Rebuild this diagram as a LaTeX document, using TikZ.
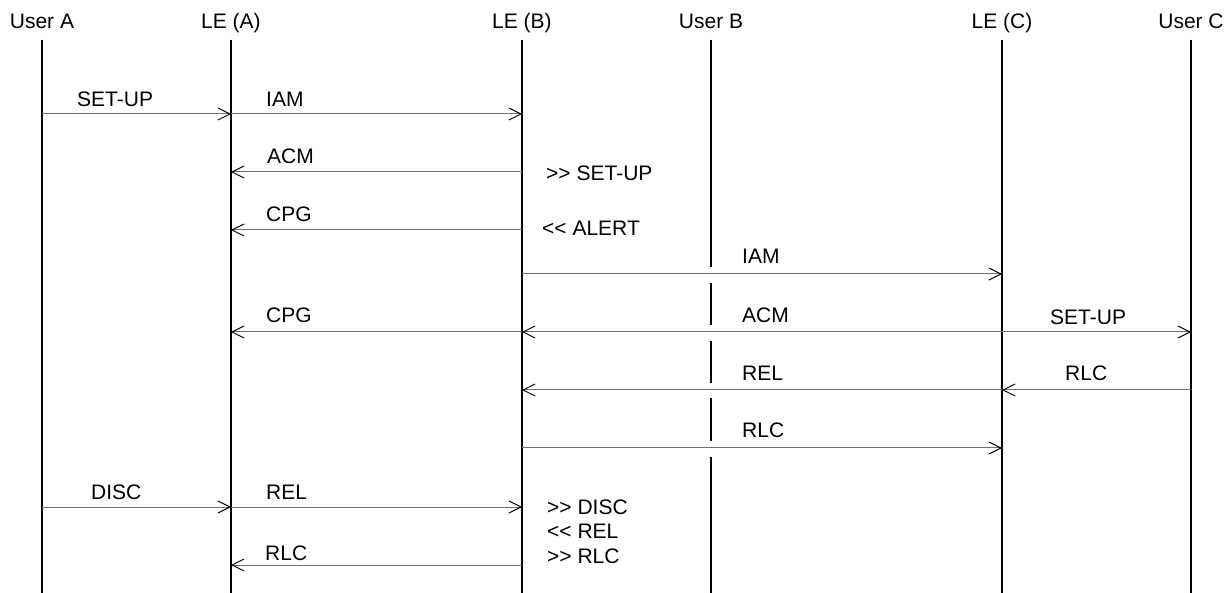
\documentclass[tikz,border=0pt]{standalone}
\usepackage{fontspec}
\setmainfont{Liberation Sans}
\usetikzlibrary{arrows.meta}
\definecolor{msggray}{RGB}{112,112,112}
\tikzset{
  lifeline/.style={line width=2pt, black},
  msg/.style={line width=1pt, msggray, -{Straight Barb[length=12pt,width=12pt,line width=1pt,black]}},
  lbl/.style={anchor=base west, inner sep=0pt, font=\fontsize{21}{25}\selectfont},
  hdr/.style={anchor=base, inner sep=0pt, font=\fontsize{21}{25}\selectfont},
}
\begin{document}
\begin{tikzpicture}[x=1pt,y=-1pt]
\useasboundingbox (0,0) rectangle (1232,593);
% lifeline positions
\coordinate (A)  at (42,40);
\coordinate (LA) at (231,40);
\coordinate (LB) at (522,40);
\coordinate (UB) at (711,40);
\coordinate (LC) at (1002,40);
\coordinate (UC) at (1191,40);
\coordinate (bot) at (0,593);
% headers
\node[hdr] (hA)  at (42,29)   {User A};
\node[hdr] (hLA) at (231,29)  {LE (A)};
\node[hdr] (hLB) at (522,29)  {LE (B)};
\node[hdr] (hUB) at (711,29)  {User B};
\node[hdr] (hLC) at (1002,29) {LE (C)};
\node[hdr] (hUC) at (1191,29) {User C};
% row coordinates
\coordinate (r1) at (0,114);
\coordinate (r2) at (0,172);
\coordinate (r3) at (0,230);
\coordinate (r4) at (0,274);
\coordinate (r5) at (0,332);
\coordinate (r6) at (0,390);
\coordinate (r7) at (0,448);
\coordinate (r8) at (0,507);
\coordinate (r9) at (0,565);
% lifelines
\draw[lifeline] (A)  -- (A |- bot);
\draw[lifeline] (LA) -- (LA |- bot);
\draw[lifeline] (LB) -- (LB |- bot);
\draw[lifeline] (LC) -- (LC |- bot);
\draw[lifeline] (UC) -- (UC |- bot);
% User B lifeline with gaps at crossings
\coordinate (g1a) at (0,267); \coordinate (g1b) at (0,283);
\coordinate (g2a) at (0,325); \coordinate (g2b) at (0,341);
\coordinate (g3a) at (0,383); \coordinate (g3b) at (0,398);
\coordinate (g4a) at (0,441); \coordinate (g4b) at (0,457);
\draw[lifeline] (UB) -- (UB |- g1a);
\draw[lifeline] (UB |- g1b) -- (UB |- g2a);
\draw[lifeline] (UB |- g2b) -- (UB |- g3a);
\draw[lifeline] (UB |- g3b) -- (UB |- g4a);
\draw[lifeline] (UB |- g4b) -- (UB |- bot);
% messages
\draw[msg] (A |- r1) -- (LA |- r1);
\draw[msg] (LA |- r1) -- (LB |- r1);
\draw[msg] (LB |- r2) -- (LA |- r2);
\draw[msg] (LB |- r3) -- (LA |- r3);
\draw[msg] (LB |- r4) -- (LC |- r4);
\draw[msg] (LB |- r5) -- (LA |- r5);
\draw[msg] (LC |- r5) -- (LB |- r5);
\draw[msg] (LC |- r5) -- (UC |- r5);
\draw[msg] (LC |- r6) -- (LB |- r6);
\draw[msg] (UC |- r6) -- (LC |- r6);
\draw[msg] (LB |- r7) -- (LC |- r7);
\draw[msg] (A |- r8) -- (LA |- r8);
\draw[msg] (LA |- r8) -- (LB |- r8);
\draw[msg] (LB |- r9) -- (LA |- r9);
% labels
\node[lbl] (l1a) at (77,107)  {SET-UP};
\node[lbl] (l1b) at (266,107) {IAM};
\node[lbl] (l2)  at (267,164) {ACM};
\node[lbl] (n2)  at (546,181) {>{}> SET-UP};
\node[lbl] (l3)  at (266,222) {CPG};
\node[lbl] (n3)  at (542,236) {<{}< ALERT};
\node[lbl] (l4)  at (742,264) {IAM};
\node[lbl] (l5a) at (266,323) {CPG};
\node[lbl] (l5b) at (742,323) {ACM};
\node[lbl] (l5c) at (1050,325) {SET-UP};
\node[lbl] (l6a) at (742,381) {REL};
\node[lbl] (l6b) at (1065,381) {RLC};
\node[lbl] (l7)  at (742,438) {RLC};
\node[lbl] (l8a) at (91,499)  {DISC};
\node[lbl] (l8b) at (266,499) {REL};
\node[lbl] (n8a) at (547,514) {>{}> DISC};
\node[lbl] (n8b) at (547,538) {<{}< REL};
\node[lbl] (n8c) at (547,563) {>{}> RLC};
\node[lbl] (l9)  at (265,560) {RLC};
\end{tikzpicture}
\end{document}
